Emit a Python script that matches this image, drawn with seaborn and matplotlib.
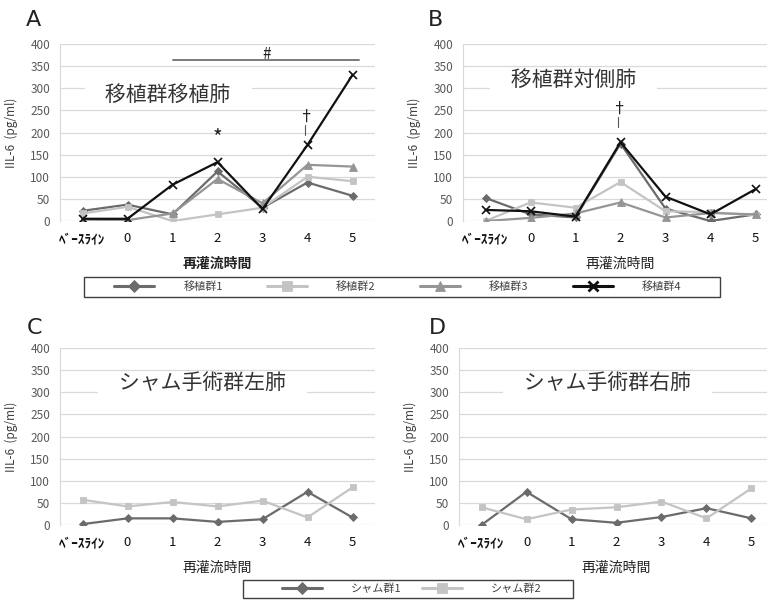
import matplotlib
matplotlib.use("Agg")
import matplotlib.pyplot as plt
import seaborn as sns
from matplotlib.lines import Line2D
from matplotlib.patches import Rectangle

# --- Data (IL-6, pg/ml) ---
time_labels = ["ﾍﾞｰｽﾗｲﾝ", "0", "1", "2", "3", "4", "5"]

# A: 移植群 移植肺
a_g1 = [23, 37, 15, 112, 30, 87, 57]
a_g2 = [17, 32, 0, 15, 30, 100, 90]
a_g3 = [3, 2, 17, 95, 40, 127, 123]
a_g4 = [5, 5, 82, 133, 27, 172, 330]

# B: 移植群 対側肺
b_g1 = [52, 15, 8, 175, 28, 0, 15]
b_g2 = [0, 42, 30, 88, 22, 20, 13]
b_g3 = [0, 7, 17, 42, 8, 18, 15]
b_g4 = [25, 22, 10, 178, 55, 15, 72]

# C: シャム手術群 左肺
c_s1 = [2, 15, 15, 7, 13, 75, 17]
c_s2 = [57, 42, 52, 42, 55, 17, 85]

# D: シャム手術群 右肺
d_s1 = [0, 75, 13, 5, 18, 38, 15]
d_s2 = [40, 13, 35, 40, 53, 15, 83]

graft_names = ["移植群1", "移植群2", "移植群3", "移植群4"]
sham_names = ["シャム群1", "シャム群2"]
panel_titles = ["移植群移植肺", "移植群対側肺", "シャム手術群左肺", "シャム手術群右肺"]
panel_letters = ["A", "B", "C", "D"]
y_label = "IIL-6  (pg/ml)"
x_label = "再灌流時間"

# --- Style ---
sns.set_style("white")
plt.rcParams["font.family"] = ["Noto Sans CJK JP", "DejaVu Sans"]

STYLE = {
    "移植群1": dict(color="#6b6b6b", marker="D", markersize=4.5),
    "移植群2": dict(color="#c4c4c4", marker="s", markersize=5),
    "移植群3": dict(color="#959595", marker="^", markersize=5.5),
    "移植群4": dict(color="#111111", marker="x", markersize=6),
    "シャム群1": dict(color="#6b6b6b", marker="D", markersize=4.5),
    "シャム群2": dict(color="#c4c4c4", marker="s", markersize=5),
}

W, H = 767, 600
fig = plt.figure(figsize=(W / 100, H / 100), dpi=100)


def make_ax(left_px, bottom_px):
    return fig.add_axes([left_px / W, 1 - bottom_px / H, 315 / W, 177 / H])


def draw_panel(ax, series, names, title, title_xy, bold_xlabel):
    for name, vals in zip(names, series):
        st = STYLE[name]
        sns.lineplot(x=time_labels, y=vals, ax=ax, sort=False, color=st["color"],
                     marker=st["marker"], markersize=st["markersize"],
                     markeredgecolor=st["color"],
                     markeredgewidth=1.2 if st["marker"] == "x" else 0.6,
                     linewidth=1.6, legend=False)
    ax.set_xlim(-0.5, 6.5)
    ax.set_ylim(0, 400)
    ax.set_yticks(range(0, 401, 50))
    ax.grid(axis="y", color="#d9d9d9", linewidth=0.9)
    ax.set_axisbelow(True)
    for s in ["right", "bottom", "top"]:
        ax.spines[s].set_visible(False)
    ax.spines["left"].set_color("#d9d9d9")
    ax.tick_params(axis="y", length=0, pad=7, labelsize=8.5, labelcolor="#595959")
    ax.tick_params(axis="x", length=0, pad=8, labelsize=9.5, labelcolor="#111111")
    ax.get_xticklabels()[0].set_fontweight("bold")
    ax.set_ylabel(y_label, fontsize=8.5, color="#404040")
    ax.yaxis.set_label_coords(-0.133, 0.5)
    ax.set_xlabel(x_label, fontsize=10, color="#222222",
                  fontweight="bold" if bold_xlabel else "normal")
    ax.xaxis.set_label_coords(0.5, -0.205)
    ax.text(title_xy[0], title_xy[1], "\u3000" + title + "\u3000", fontsize=15,
            color="#333333", ha="center", va="center",
            bbox=dict(facecolor="white", edgecolor="none", pad=0))


ax_a = make_ax(60, 221)
draw_panel(ax_a, [a_g1, a_g2, a_g3, a_g4], graft_names, panel_titles[0], (1.9, 285), True)
ax_b = make_ax(463, 221)
draw_panel(ax_b, [b_g1, b_g2, b_g3, b_g4], graft_names, panel_titles[1], (1.95, 319), False)
ax_c = make_ax(60, 525)
draw_panel(ax_c, [c_s1, c_s2], sham_names, panel_titles[2], (2.67, 321), False)
ax_d = make_ax(459, 525)
draw_panel(ax_d, [d_s1, d_s2], sham_names, panel_titles[3], (2.8, 321), False)

# significance marks
ax_a.plot([2, 6.15], [363, 363], color="#7a7a7a", linewidth=1.4)
ax_a.text(4.1, 376, "#", fontsize=11, ha="center", va="center", color="#222222")
ax_a.text(3, 186, "*", fontsize=15, ha="center", va="center", color="#222222")
ax_a.text(4.95, 234, "†", fontsize=11, ha="center", va="center", color="#222222")
ax_a.plot([4.95, 4.95], [195, 218], color="#555555", linewidth=0.8)
ax_b.text(2.95, 252, "†", fontsize=11, ha="center", va="center", color="#222222")
ax_b.plot([2.95, 2.95], [212, 236], color="#555555", linewidth=0.8)

# panel letters
for letter, (px, py) in zip(panel_letters, [(33, 20), (435, 20), (35, 328), (437, 328)]):
    fig.text(px / W, 1 - py / H, letter, fontsize=16, ha="center", va="center",
             color="#222222", family=["DejaVu Sans"])


def handles_for(names):
    hs = []
    for n in names:
        st = STYLE[n]
        hs.append(Line2D([], [], color=st["color"], marker=st["marker"],
                         markersize=st["markersize"] + 1.5, markeredgecolor=st["color"],
                         markeredgewidth=2 if st["marker"] == "x" else 0.6,
                         linewidth=2.2))
    return hs


leg_kw = dict(fontsize=8, frameon=False, handlelength=3.6,
              handletextpad=2.6, borderpad=0.45, labelcolor="#404040")
fig.legend(handles_for(graft_names), graft_names, loc="center", ncol=4,
           bbox_to_anchor=(398 / W, 1 - 286.5 / H), columnspacing=4.0, **leg_kw)
fig.legend(handles_for(sham_names), sham_names, loc="center", ncol=2,
           bbox_to_anchor=(412 / W, 1 - 589 / H), columnspacing=1.8, **leg_kw)

# legend frames (boxes wider than the entries, as in the reference)
for (x0, y0, x1, y1) in [(84, 277, 720, 297), (243, 580, 573, 598)]:
    fig.patches.append(Rectangle((x0 / W, 1 - y1 / H), (x1 - x0) / W, (y1 - y0) / H,
                                 transform=fig.transFigure, fill=False,
                                 edgecolor="#404040", linewidth=1.0))

fig.savefig("out.png", dpi=100)
